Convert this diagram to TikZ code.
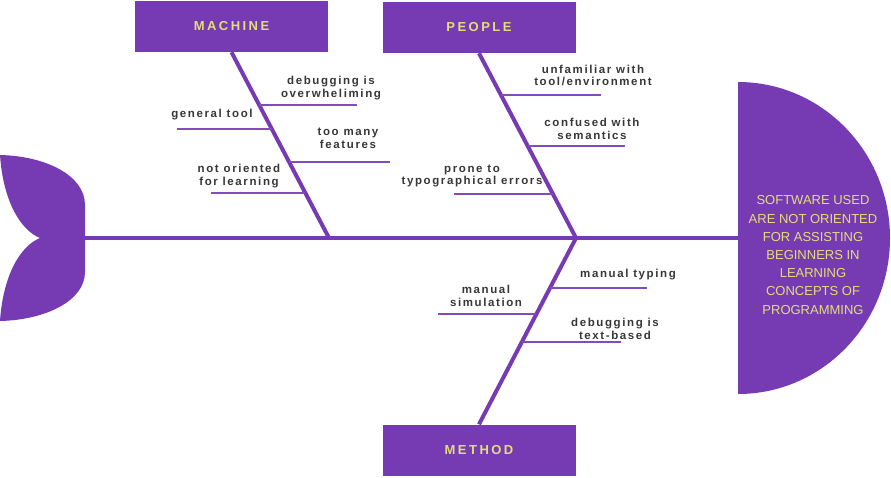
\documentclass[tikz,border=0pt]{standalone}
\usepackage{fontspec}
\setmainfont{Liberation Sans}
\newfontfamily\causefont[LetterSpace=14]{Liberation Sans}
\newfontfamily\catfont[LetterSpace=19]{Liberation Sans}
\definecolor{fishpurple}{RGB}{118,58,178}
\definecolor{twigpurple}{RGB}{128,76,192}
\definecolor{fishyellow}{RGB}{228,222,120}
\definecolor{causegray}{RGB}{55,55,55}
\tikzset{
  bone/.style={draw=fishpurple,line width=4pt},
  twig/.style={draw=twigpurple,line width=1.6pt},
  cause/.style={font=\causefont\bfseries\fontsize{11.5}{12.8}\selectfont,text=causegray,align=center,inner sep=0pt},
  catbox/.style={fill=fishpurple,minimum width=193pt,minimum height=51pt,inner sep=0pt,font=\catfont\bfseries\fontsize{13}{15}\selectfont,text=fishyellow},
}

\begin{document}
\begin{tikzpicture}[x=1pt,y=1pt,yscale=-1,xscale=1]
\useasboundingbox (0,0) rectangle (891,477);

%Shape: Tail
\fill[fishpurple] (0,155) .. controls (45,156) and (85,175) .. (85,205) -- (85,272) .. controls (85,301) and (45,320) .. (0,321) .. controls (3,276) and (20,246) .. (40,238) .. controls (20,230) and (3,200) .. (0,155) -- cycle ;
%Shape: Head
\fill[fishpurple] (738,82) arc[start angle=-90,end angle=90,x radius=152,y radius=156] -- cycle ;
\node[font=\fontsize{13}{18.2}\selectfont,text=fishyellow,align=center,inner sep=0pt] (effect) at (813,255) {SOFTWARE USED\\ARE NOT ORIENTED\\FOR ASSISTING\\BEGINNERS IN\\LEARNING\\CONCEPTS OF\\PROGRAMMING};

%Spine
\coordinate (tail) at (85,238);
\coordinate (head) at (738,238);
\coordinate (jm) at (329,238);
\coordinate (jp) at (576,238);
\draw[bone] (tail) -- (head) ;

%Category boxes
\node[catbox] (machine) at (231.5,26.5) {MACHINE};
\node[catbox] (people) at (479,27.5) {PEOPLE};
\node[catbox] (method) at (479,450) {METHOD};
\draw[bone] (machine.south) -- (jm) ;
\draw[bone] (people.south) -- (jp) ;
\draw[bone] (method.north) -- (jp) ;

%Causes: machine
\coordinate (m1a) at (259.3,105); \coordinate (m1b) at (357,105);
\coordinate (m2a) at (177,129); \coordinate (m2b) at (271.9,129);
\coordinate (m3a) at (289.2,162); \coordinate (m3b) at (390,162);
\coordinate (m4a) at (211,193); \coordinate (m4b) at (305.4,193);
\draw[twig] (m1a) -- (m1b) ;
\draw[twig] (m2a) -- (m2b) ;
\draw[twig] (m3a) -- (m3b) ;
\draw[twig] (m4a) -- (m4b) ;
\node[cause] (m1) at (331,88) {debugging is\\overwheliming};
\node[cause] (m2) at (212,115) {general tool};
\node[cause] (m3) at (348,138.5) {too many\\features};
\node[cause] (m4) at (239,176) {not oriented\\for learning};

%Causes: people
\coordinate (p1a) at (501,95); \coordinate (p1b) at (601,95);
\coordinate (p2a) at (527.8,146); \coordinate (p2b) at (625,146);
\coordinate (p3a) at (454,194); \coordinate (p3b) at (552.9,194);
\draw[twig] (p1a) -- (p1b) ;
\draw[twig] (p2a) -- (p2b) ;
\draw[twig] (p3a) -- (p3b) ;
\node[cause] (p1) at (593,75.5) {unfamiliar with\\tool/environment};
\node[cause] (p2) at (592,128.5) {confused with\\semantics};
\node[cause] (p3) at (472,176) {prone to\\typographical errors};

%Causes: method
\coordinate (t1a) at (549.9,288); \coordinate (t1b) at (647,288);
\coordinate (t2a) at (438,314); \coordinate (t2b) at (536.4,314);
\coordinate (t3a) at (521.8,342); \coordinate (t3b) at (621,342);
\draw[twig] (t1a) -- (t1b) ;
\draw[twig] (t2a) -- (t2b) ;
\draw[twig] (t3a) -- (t3b) ;
\node[cause] (t1) at (628,275) {manual typing};
\node[cause] (t2) at (486,296) {manual\\simulation};
\node[cause] (t3) at (615,328.5) {debugging is\\text-based};

\end{tikzpicture}
\end{document}
